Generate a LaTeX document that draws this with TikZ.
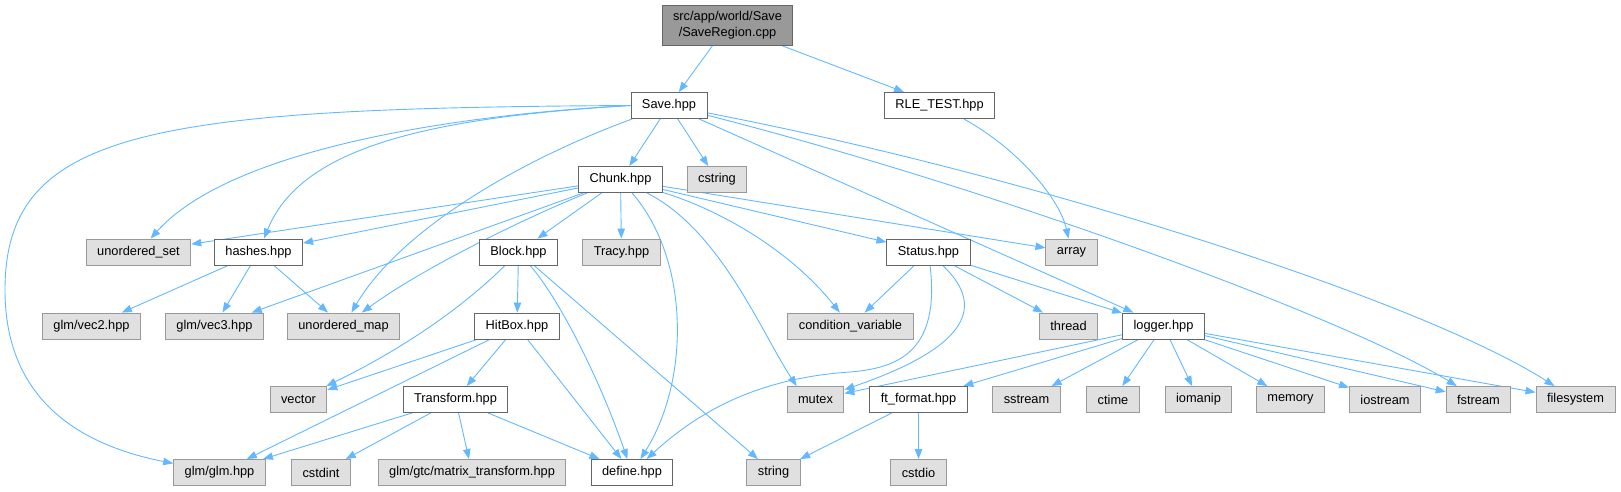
\documentclass[tikz,border=0pt]{standalone}
\usepackage{fontspec}
\setmainfont{Liberation Sans}
\usetikzlibrary{arrows.meta, backgrounds}
\definecolor{link}{HTML}{63B8FF}
\definecolor{docline}{HTML}{666666}
\definecolor{sysfill}{HTML}{E0E0E0}
\definecolor{sysline}{HTML}{999999}
\definecolor{rootfill}{HTML}{999999}

\begin{document}
\begin{tikzpicture}[x=1pt, y=-1pt,
    every node/.style={font=\fontsize{12.8}{15.5}\selectfont, inner xsep=11pt, inner ysep=0pt, minimum height=26pt, line width=0.9pt},
    docbox/.style={draw=docline, fill=white},
    sysbox/.style={draw=sysline, fill=sysfill},
    rootbox/.style={draw=docline, fill=rootfill, minimum height=40pt, align=center},
    dep/.style={-{Triangle[length=10pt, width=7.5pt]}, line width=0.9pt, link}]
    \useasboundingbox (0,0) rectangle (1621,491);

    % files
    \node[rootbox] (root) at (727.5,25) {src/app/world/Save\\/SaveRegion.cpp};
    \node[docbox] (save) at (669,105.5) {Save.hpp};
    \node[docbox] (rle) at (939.5,105.5) {RLE\_TEST.hpp};
    \node[docbox] (chunk) at (620.5,179.5) {Chunk.hpp};
    \node[sysbox] (cstring) at (717,179.5) {cstring};
    \node[sysbox] (uset) at (138.5,252) {unordered\_set};
    \node[docbox] (hashes) at (258.5,252) {hashes.hpp};
    \node[docbox] (block) at (518.5,252) {Block.hpp};
    \node[sysbox] (tracy) at (621.5,252) {Tracy.hpp};
    \node[docbox] (status) at (928.5,252) {Status.hpp};
    \node[sysbox] (array) at (1071.5,252) {array};
    \node[sysbox] (vec2) at (91.5,326) {glm/vec2.hpp};
    \node[sysbox] (vec3) at (214.5,326) {glm/vec3.hpp};
    \node[sysbox] (umap) at (343.5,326) {unordered\_map};
    \node[docbox] (hitbox) at (517,326) {HitBox.hpp};
    \node[sysbox] (condvar) at (850.5,326) {condition\_variable};
    \node[sysbox] (thread) at (1068.5,326) {thread};
    \node[docbox] (logger) at (1163.5,326) {logger.hpp};
    \node[sysbox] (vector) at (298.5,399.5) {vector};
    \node[docbox] (transform) at (455.5,399.5) {Transform.hpp};
    \node[sysbox] (mutex) at (815.5,399.5) {mutex};
    \node[docbox] (ftformat) at (918.5,399.5) {ft\_format.hpp};
    \node[sysbox] (sstream) at (1026.5,399.5) {sstream};
    \node[sysbox] (ctime) at (1113,399.5) {ctime};
    \node[sysbox] (iomanip) at (1198.5,399.5) {iomanip};
    \node[sysbox] (memory) at (1290.5,399.5) {memory};
    \node[sysbox] (iostream) at (1385,399.5) {iostream};
    \node[sysbox] (fstream) at (1478.5,399.5) {fstream};
    \node[sysbox] (filesystem) at (1575.5,399.5) {filesystem};
    \node[sysbox] (glm) at (219.5,472.5) {glm/glm.hpp};
    \node[sysbox] (cstdint) at (321,472.5) {cstdint};
    \node[sysbox] (matrix) at (472,472.5) {glm/gtc/matrix\_transform.hpp};
    \node[docbox] (define) at (632,472.5) {define.hpp};
    \node[sysbox] (string) at (773.5,472.5) {string};
    \node[sysbox] (cstdio) at (918.5,472.5) {cstdio};

    % includes
    \begin{scope}[on background layer]
    \draw[dep] (root) -- (save);
    \draw[dep] (root) -- (rle);
    \draw[dep] (rle) .. controls (1020,150) and (1060,200) .. (array);

    \draw[dep] (save.west) .. controls (150,108) and (5,130) .. (5,290) .. controls (5,400) and (80,445) .. (glm);
    \draw[dep] (save.west) .. controls (450,115) and (230,150) .. (uset);
    \draw[dep] (save.west) .. controls (420,118) and (300,150) .. (hashes);
    \draw[dep] (save) .. controls (520,160) and (400,230) .. (umap);
    \draw[dep] (save) -- (chunk);
    \draw[dep] (save) -- (cstring);
    \draw[dep] (save) -- (logger);
    \draw[dep] (save) .. controls (1000,190) and (1350,320) .. (fstream);
    \draw[dep] (save) .. controls (1030,175) and (1420,300) .. (filesystem);

    \draw[dep] (chunk) -- (uset);
    \draw[dep] (chunk) -- (hashes);
    \draw[dep] (chunk) -- (vec3);
    \draw[dep] (chunk) .. controls (520,220) and (420,270) .. (umap);
    \draw[dep] (chunk) -- (block);
    \draw[dep] (chunk) -- (tracy);
    \draw[dep] (chunk) .. controls (690,260) and (690,380) .. (define);
    \draw[dep] (chunk) .. controls (720,230) and (760,330) .. ([xshift=10pt]mutex.north west);
    \draw[dep] (chunk) .. controls (720,210) and (790,250) .. (condvar);
    \draw[dep] (chunk) -- (status);
    \draw[dep] (chunk) -- (array);

    \draw[dep] (hashes) -- (vec2);
    \draw[dep] (hashes) -- (vec3);
    \draw[dep] (hashes) -- (umap);

    \draw[dep] (block) .. controls (450,320) and (380,360) .. (vector);
    \draw[dep] (block) -- (hitbox);
    \draw[dep] (block) .. controls (560,300) and (600,380) .. (define);
    \draw[dep] (block) -- (string);

    \draw[dep] (hitbox) -- (vector);
    \draw[dep] (hitbox) -- (glm);
    \draw[dep] (hitbox) -- (transform);
    \draw[dep] (hitbox) -- (define);

    \draw[dep] (transform) -- (glm);
    \draw[dep] (transform) -- (cstdint);
    \draw[dep] (transform) -- (matrix);
    \draw[dep] (transform) -- (define);

    \draw[dep] (status) -- (condvar);
    \draw[dep] (status) .. controls (940,350) and (900,368) .. (850,372) .. controls (760,378) and (700,410) .. (define);
    \draw[dep] (status) .. controls (990,310) and (960,350) .. (mutex);
    \draw[dep] (status) -- (thread);
    \draw[dep] (status) -- (logger);

    \draw[dep] (logger) -- (mutex);
    \draw[dep] (logger) -- (ftformat);
    \draw[dep] (logger) -- (sstream);
    \draw[dep] (logger) -- (ctime);
    \draw[dep] (logger) -- (iomanip);
    \draw[dep] (logger) -- (memory);
    \draw[dep] (logger) -- (iostream);
    \draw[dep] (logger) -- (fstream);
    \draw[dep] (logger) -- (filesystem);

    \draw[dep] (ftformat) -- (string);
    \draw[dep] (ftformat) -- (cstdio);
    \end{scope}
\end{tikzpicture}
\end{document}
